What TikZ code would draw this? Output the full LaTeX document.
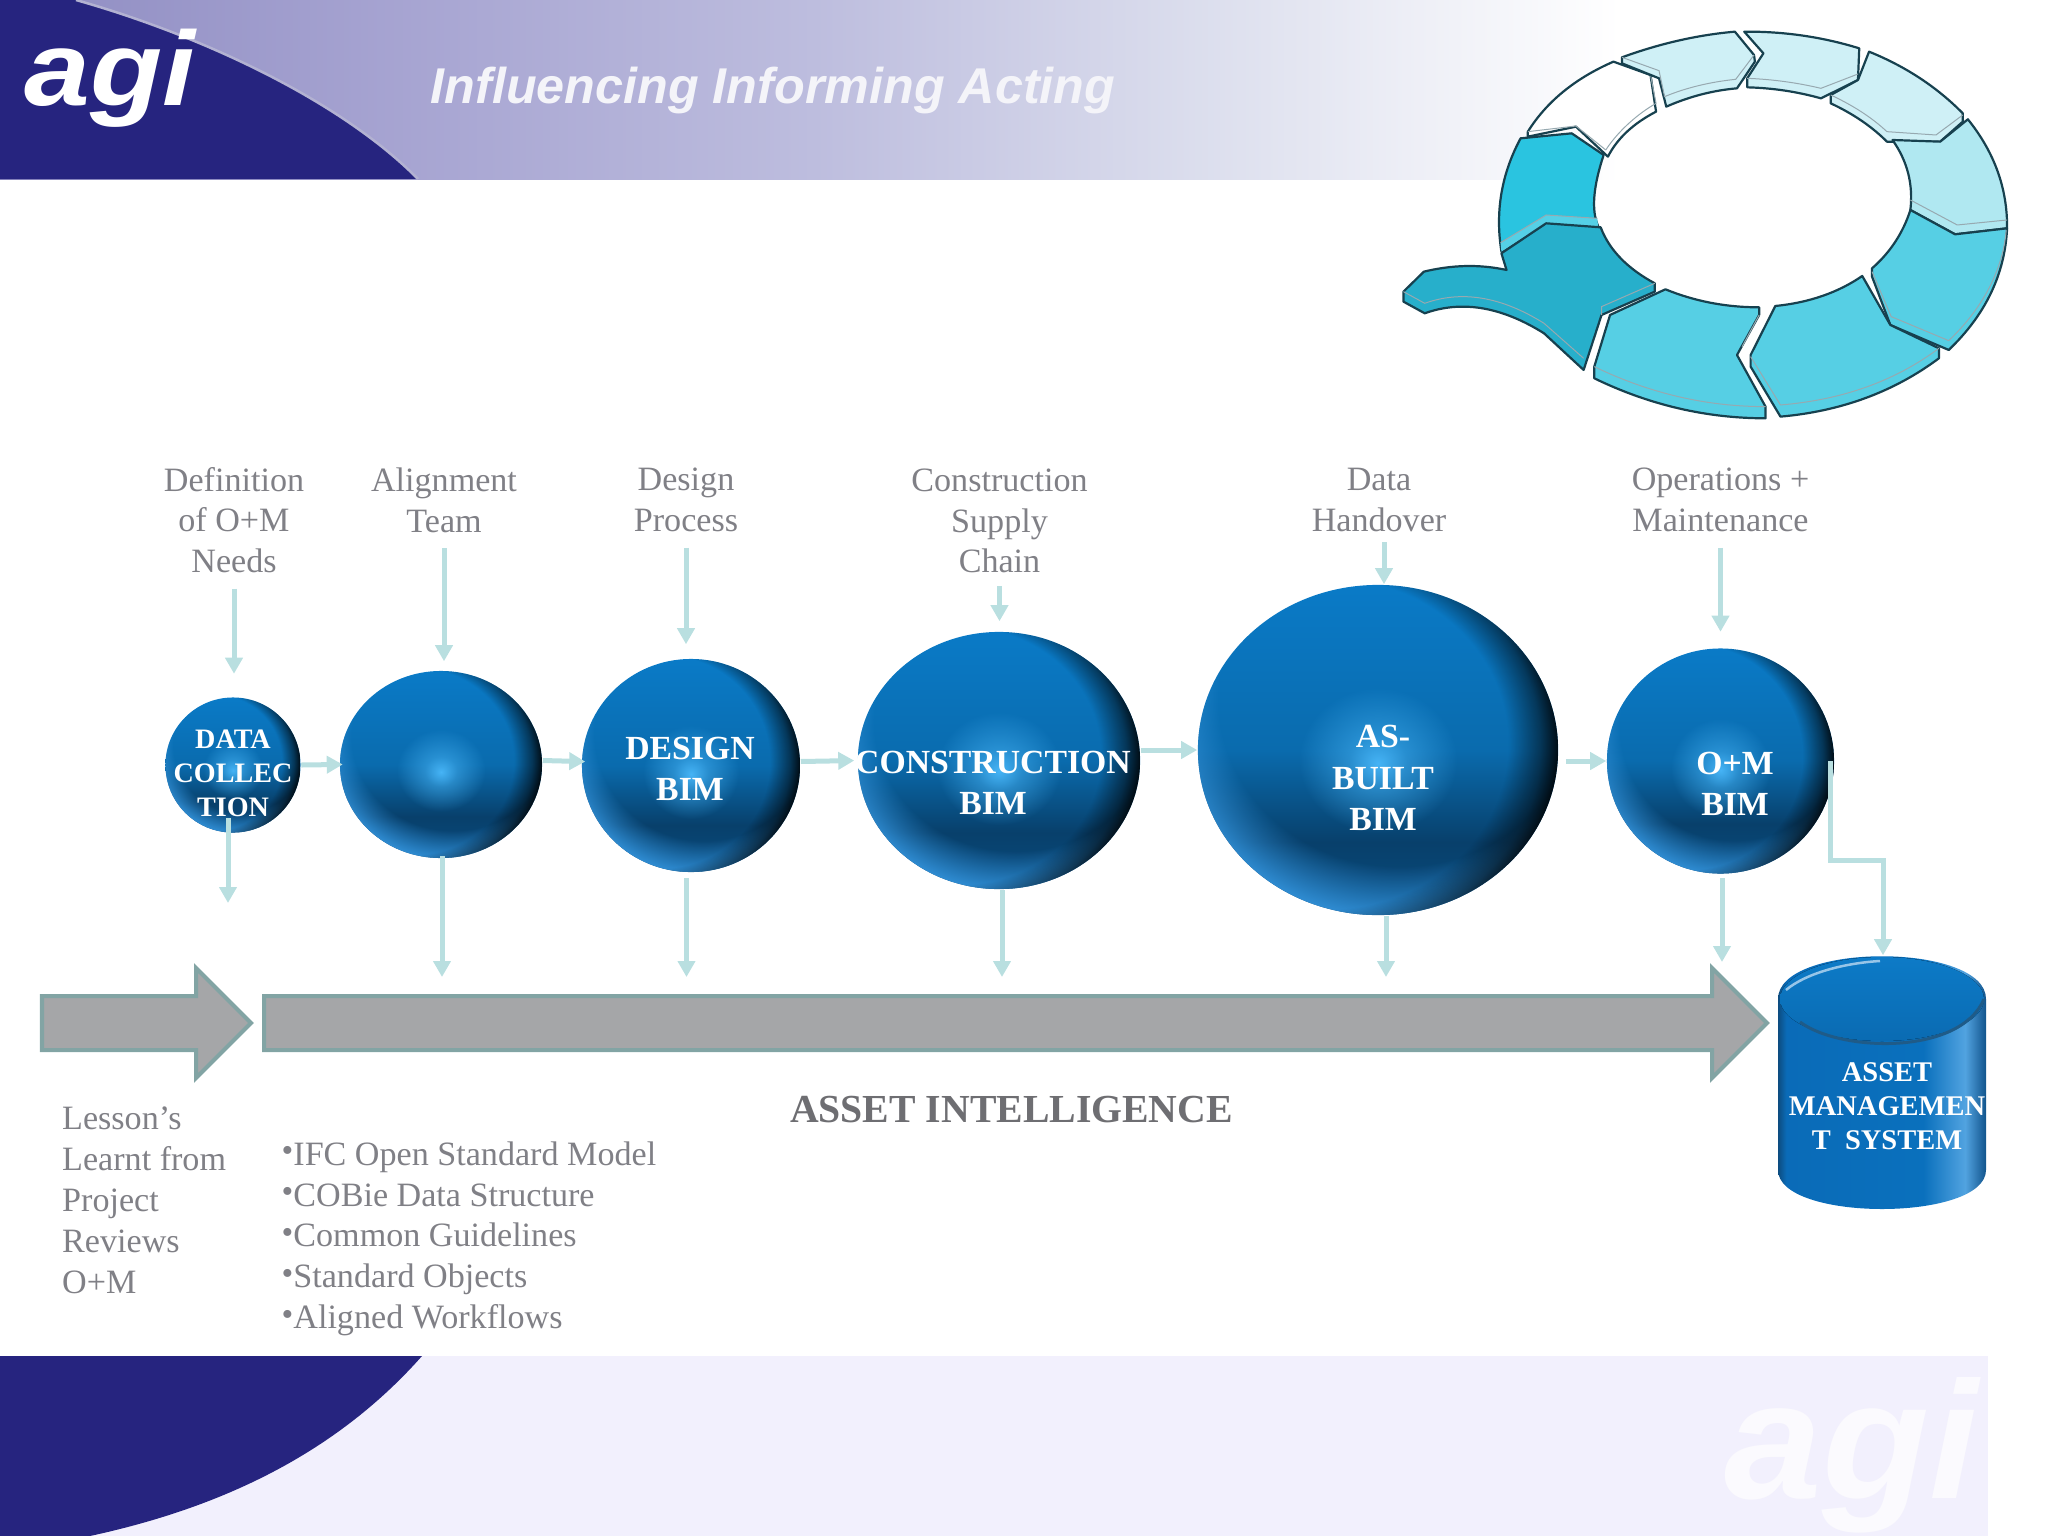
\documentclass[tikz,border=0pt]{standalone}
\usepackage{fontspec}
\usepackage{graphicx}
\setmainfont{Liberation Serif}
\newfontfamily\logofont{Liberation Sans}
\usetikzlibrary{arrows.meta,shapes.geometric,fadings}

\definecolor{navy}{HTML}{26247F}
\definecolor{flowcol}{HTML}{B9DFE0}
\definecolor{labelgray}{HTML}{808086}
\definecolor{titlegray}{HTML}{6E6E72}
\definecolor{barfill}{HTML}{A5A6A8}
\definecolor{barline}{HTML}{82A4A4}
\definecolor{footcol}{HTML}{F2F0FD}
\definecolor{ringline}{HTML}{17414F}
\definecolor{ringpale}{HTML}{CFF0F6}
\definecolor{ringmid}{HTML}{B0E8F1}
\definecolor{ringblue}{HTML}{56CFE4}
\definecolor{ringbright}{HTML}{2AC4E0}
\definecolor{ringdark}{HTML}{27AFCB}
\definecolor{glowcol}{HTML}{46B4F6}
\definecolor{rimcol}{HTML}{2F8CD2}

\pgfdeclarehorizontalshading{headerband}{100bp}{rgb(0bp)=(.56,.55,.76);
  rgb(25bp)=(.56,.55,.76);
  rgb(37bp)=(.65,.64,.82);
  rgb(50bp)=(.74,.74,.87);
  rgb(62bp)=(.86,.87,.93);
  rgb(75bp)=(1,1,1);
  rgb(100bp)=(1,1,1)}
\pgfdeclareverticalshading{ballbody}{100bp}{rgb(0bp)=(.04,.30,.50);
  rgb(25bp)=(.04,.30,.50);
  rgb(36bp)=(.03,.25,.42);
  rgb(50bp)=(.04,.42,.68);
  rgb(75bp)=(.04,.48,.78);
  rgb(100bp)=(.04,.48,.78)}
\pgfdeclareverticalshading{dbtop}{100bp}{rgb(0bp)=(.04,.42,.70);
  rgb(25bp)=(.04,.42,.70);
  rgb(75bp)=(.05,.48,.78);
  rgb(100bp)=(.05,.48,.78)}
\pgfdeclarehorizontalshading{dbbody}{100bp}{rgb(0bp)=(.05,.30,.50);
  rgb(25bp)=(.05,.30,.50);
  rgb(27bp)=(.04,.42,.72);
  rgb(60bp)=(.04,.44,.74);
  rgb(70bp)=(.32,.64,.88);
  rgb(75bp)=(.07,.33,.55);
  rgb(100bp)=(.07,.33,.55)}
\pgfdeclareradialshading{rimdarkshade}{\pgfpoint{-14bp}{2bp}}{color(0bp)=(black);
  color(25bp)=(black);color(28.5bp)=(gray);color(31bp)=(white);color(50bp)=(white)}
\pgfdeclareradialshading{rimlowshade}{\pgfpoint{6bp}{15bp}}{color(0bp)=(black);
  color(25bp)=(black);color(31bp)=(white);color(50bp)=(white)}
\pgfdeclareradialshading{glowshade}{\pgfpoint{0bp}{-2bp}}{color(0bp)=(white);
  color(4bp)=(gray);color(11bp)=(black);color(50bp)=(black)}
\pgfdeclarefading{rimdark}{\pgfuseshading{rimdarkshade}}
\pgfdeclarefading{rimlow}{\pgfuseshading{rimlowshade}}
\pgfdeclarefading{ballglow}{\pgfuseshading{glowshade}}

\tikzset{
  stagelabel/.style={text=labelgray, align=center, inner sep=0pt, font=\fontsize{9.7}{11.6}\selectfont},
  bimball/.style={ellipse, inner sep=0pt, shading=ballbody, path picture={
    \fill[rimcol, path fading=rimlow] (path picture bounding box.south west) rectangle (path picture bounding box.north east);
    \fill[black, path fading=rimdark] (path picture bounding box.south west) rectangle (path picture bounding box.north east);
    \fill[glowcol, path fading=ballglow] (path picture bounding box.south west) rectangle (path picture bounding box.north east);
  }},
  bimtext/.style={text=white, align=center, inner sep=0pt, font=\bfseries\fontsize{9.6}{11.7}\selectfont},
  smalltext/.style={bimtext, font=\bfseries\fontsize{8}{9.67}\selectfont},
  flowarrow/.style={draw=flowcol, line width=.5mm, -{Triangle[length=1.6mm,width=1.7mm]}},
  bigarrow/.style={fill=barfill, draw=barline, line width=.4mm},
  ringseg/.style={draw=ringline, line width=.22mm, line join=round},
  ringfacet/.style={draw=ringline!45, line width=.1mm}
}

\newcommand{\pointmark}{\raisebox{1pt}{\fontsize{9.5}{9.5}\selectfont\textbullet}}

\begin{document}
\begin{tikzpicture}[x=0.01cm,y=-0.01cm]
\useasboundingbox (0,0) rectangle (2048,1536);

% header and footer
\path[shading=headerband] (0,0) rectangle (1620,179);
\fill[navy] (0,0) -- (76,0) .. controls (200,35) and (340,100) .. (418,179) -- (0,179) -- cycle;
\draw[draw=navy!35!white, line width=.25mm] (76,0) .. controls (200,35) and (340,100) .. (418,179);
\fill[footcol] (0,1356) rectangle (1988,1536);
\fill[navy] (0,1356) -- (422,1356) .. controls (330,1460) and (210,1510) .. (90,1536) -- (0,1536) -- cycle;
\node[text=white, inner sep=0pt, anchor=base, font=\logofont\bfseries\itshape\fontsize{30}{30}\selectfont] (toplogo) at (110,105) {\scalebox{1.12}[1]{agi}};
\node[text=white!95!navy, inner sep=0pt, font=\logofont\bfseries\itshape\fontsize{14.3}{16}\selectfont] (tagline) at (773,90) {Influencing Informing Acting};
\node[text=white!70!footcol, inner sep=0pt, anchor=base, font=\logofont\bfseries\itshape\fontsize{47.5}{48}\selectfont] (footlogo) at (1851.5,1498) {\scalebox{1.05}[1]{agi}};

% ring
\begin{scope}[shift={(1380,0)},xscale=0.426,yscale=0.3333]
\draw[ringseg, fill=white] (347,410) -- (347,395) .. controls (391,305) and (458,235) .. (548,185) -- (635,225) -- (648,335) .. controls (595,370) and (557,415) .. (535,470) -- (460,380) -- cycle;
\draw[ringfacet] (347,395) -- (460,378) -- (530,450);
\draw[ringfacet] (635,225) -- (648,310) .. controls (600,345) and (555,400) .. (530,450);
\draw[ringseg, fill=ringpale] (568,172) .. controls (656,131) and (744,105) .. (833,95) -- (878,165) -- (880,185) -- (838,265) .. controls (783,271) and (727,289) .. (672,320) -- (655,235) -- (568,190) -- cycle;
\draw[ringfacet] (568,172) -- (655,212) -- (668,290) .. controls (720,262) and (780,245) .. (835,238) -- (878,165);
\draw[ringseg, fill=ringpale] (855,95) .. controls (949,94) and (1039,111) .. (1125,145) -- (1122,240) -- (1035,295) .. controls (979,275) and (922,264) .. (862,262) -- (862,235) -- (900,160) -- cycle;
\draw[ringfacet] (862,235) .. controls (922,238) and (979,248) .. (1035,265) -- (1122,222);
\draw[ringseg, fill=ringpale] (1148,155) .. controls (1235,200) and (1308,262) .. (1368,340) -- (1368,365) -- (1315,425) -- (1190,425) .. controls (1154,379) and (1110,341) .. (1058,310) -- (1058,285) -- (1122,240) -- cycle;
\draw[ringfacet] (1058,285) .. controls (1110,316) and (1154,352) .. (1190,395) -- (1305,405) -- (1368,345);
\draw[ringseg, fill=ringmid] (1380,358) .. controls (1443,458) and (1473,567) .. (1472,685) -- (1350,703) -- (1245,630) .. controls (1252,553) and (1238,483) .. (1203,420) -- (1315,425) -- cycle;
\draw[ringfacet] (1245,600) -- (1355,675) -- (1472,660);
\draw[ringseg, fill=ringblue] (1472,685) .. controls (1467,823) and (1421,945) .. (1335,1050) -- (1198,975) -- (1155,830) -- (1155,805) .. controls (1198,757) and (1228,698) .. (1245,630) -- (1350,703) -- cycle;
\draw[ringfacet] (1155,815) -- (1200,950) -- (1335,1022) .. controls (1415,925) and (1462,810) .. (1470,690);
\draw[ringseg, fill=ringblue] (1132,828) -- (1198,975) -- (1312,1045) -- (1312,1075) .. controls (1207,1175) and (1083,1234) .. (940,1250) -- (870,1100) -- (870,1065) -- (928,918) .. controls (1007,908) and (1075,878) .. (1132,828) -- cycle;
\draw[ringfacet] (870,1070) -- (940,1215) .. controls (1083,1200) and (1207,1145) .. (1312,1045);
\draw[ringseg, fill=ringblue] (670,868) .. controls (737,903) and (810,922) .. (890,922) -- (890,945) -- (838,1065) -- (905,1220) -- (905,1255) .. controls (766,1255) and (632,1215) .. (503,1135) -- (503,1100) -- (540,945) -- cycle;
\draw[ringfacet] (503,1100) .. controls (632,1180) and (766,1220) .. (905,1220);
\draw[ringfacet] (890,945) -- (850,1040);
\draw[ringseg, fill=ringbright] (285,755) .. controls (270,635) and (285,522) .. (330,415) -- (450,400) -- (525,465) .. controls (500,561) and (496,632) .. (512,678) -- (390,670) -- cycle;
\fill[ringbright!80!white] (285,755) -- (390,670) -- (512,680) -- (510,655) -- (390,645) -- (283,728) -- cycle;
\draw[ringfacet] (283,728) -- (390,645) -- (510,655);
\draw[ringseg, fill=ringdark] (285,760) -- (390,670) -- (518,682) .. controls (538,750) and (581,806) .. (645,850) -- (645,875) -- (520,945) -- (478,1110) -- (385,1000) .. controls (285,920) and (192,900) .. (105,940) -- (55,905) -- (55,875) -- (103,815) .. controls (168,795) and (232,792) .. (297,810) -- cycle;
\draw[ringfacet] (645,850) -- (520,920) -- (520,945);
\draw[ringfacet] (55,875) -- (105,910) .. controls (192,870) and (285,890) .. (385,970) -- (478,1075);
\end{scope}

% stages
\node[stagelabel] (needs) at (234,520) {Definition\\of O+M\\Needs};
\node[stagelabel] (alignteam) at (444,500) {Alignment\\Team};
\node[stagelabel] (designproc) at (686,500) {Design\\Process};
\node[stagelabel] (supply) at (999.5,521) {Construction\\Supply\\Chain};
\node[stagelabel] (handover) at (1379,500) {Data\\Handover};
\node[stagelabel] (operations) at (1720.5,500) {Operations +\\Maintenance};

\node[bimball, minimum width=13.5mm, minimum height=13.5mm] (databall) at (233,765) {};
\node[bimball, minimum width=20.2mm, minimum height=18.7mm] (alignball) at (441,764.5) {};
\node[bimball, minimum width=21.8mm, minimum height=21.3mm] (designball) at (691,765.5) {};
\node[bimball, minimum width=28.2mm, minimum height=25.7mm] (constrball) at (999,760.5) {};
\node[bimball, minimum width=36mm, minimum height=33mm] (builtball) at (1378,750) {};
\node[bimball, minimum width=22.7mm, minimum height=22.5mm] (omball) at (1720.5,761) {};

\node[smalltext] (datatext) at (233,773) {DATA\\COLLEC\\TION};
\node[bimtext] (designtext) at (690,769) {DESIGN\\BIM};
\node[bimtext] (constrtext) at (993,783) {CONSTRUCTION\\BIM};
\node[bimtext] (builttext) at (1383,778) {AS-\\BUILT\\BIM};
\node[bimtext] (omtext) at (1735,784) {O+M\\BIM};

% big arrows
\draw[bigarrow] (42,996) -- (196,996) -- (196,968) -- (251,1023) -- (196,1078) -- (196,1050) -- (42,1050) -- cycle;
\draw[bigarrow] (264,996) -- (1712,996) -- (1712,968) -- (1767,1023) -- (1712,1078) -- (1712,1050) -- (264,1050) -- cycle;

% asset store
\node[inner sep=0pt, minimum width=20.9mm, minimum height=25.3mm] (asset) at (1882,1082.5) {};
\path[shading=dbbody] (1778,999) .. controls (1778,942) and (1986,942) .. (1986,999) -- (1986,1170) .. controls (1986,1222) and (1778,1222) .. (1778,1170) -- cycle;
\fill[shading=dbtop] (1882,999) ellipse [x radius=102, y radius=42];
\draw[draw=black!35!rimcol, line width=.3mm] (1800,1022) .. controls (1840,1052) and (1960,1056) .. (1984,999);
\draw[draw=rimcol!50!white, line width=.25mm] (1786,990) .. controls (1806,973) and (1845,963) .. (1880,961);
\node[smalltext, font=\bfseries\fontsize{8.1}{9.67}\selectfont] (assettext) at (1887,1106) {ASSET\\MANAGEMEN\\T~~SYSTEM};

% connectors
\coordinate (datadown) at (228,903);
\coordinate (aligndown) at (442,977);
\coordinate (designdown) at (686.5,977);
\coordinate (constrdown) at (1002,977);
\coordinate (builtdown) at (1386,977);
\coordinate (omdown) at (1722,962);
\coordinate (omelbow) at (1883,860);

\draw[flowarrow, shorten <=1.5mm, shorten >=2.3mm] (needs.south) -- (needs.south |- databall.north);
\draw[flowarrow, shorten <=1.5mm, shorten >=.9mm] (alignteam.south) -- (alignteam.south |- alignball.north);
\draw[flowarrow, shorten <=1.5mm, shorten >=1.4mm] (designproc.south) -- (designproc.south |- designball.north);
\draw[flowarrow, shorten <=1.2mm, shorten >=1mm] (supply.south) -- (supply.south |- constrball.north);
\draw[flowarrow, shorten <=1mm] ([xshift=.5mm]handover.south) -- ([xshift=.5mm]handover.south |- builtball.north);
\draw[flowarrow, shorten <=1.5mm, shorten >=1.6mm] (operations.south) -- (operations.south |- omball.north);

\draw[flowarrow, shorten >=-.35mm] (databall.east) -- (alignball.west);
\draw[flowarrow, shorten >=-.4mm] ([yshift=.4mm]alignball.east) -- ([yshift=.4mm]designball.west);
\draw[flowarrow, shorten >=.3mm] ([yshift=.4mm]designball.east) -- (constrball.west);
\draw[flowarrow] (constrball.east |- builtball.west) -- (builtball.west);
\draw[flowarrow, shorten <=.7mm] (omball.west -| builtball.east) -- (omball.west);

\draw[flowarrow, shorten <=-1.5mm] (datadown |- databall.south) -- (datadown);
\draw[flowarrow, shorten <=-.3mm] (aligndown |- alignball.south) -- (aligndown);
\draw[flowarrow, shorten <=.5mm] (designdown |- designball.south) -- (designdown);
\draw[flowarrow] (constrdown |- constrball.south) -- (constrdown);
\draw[flowarrow] (builtdown |- builtball.south) -- (builtdown);
\draw[flowarrow, shorten <=.4mm] (omdown |- omball.south) -- (omdown);
\draw[flowarrow] ([xshift=-.4mm]omball.east) |- (omelbow) -- (omelbow |- asset.north);

% texts
\node[text=titlegray, inner sep=0pt, font=\bfseries\fontsize{11.3}{13}\selectfont] (assetintel) at (1011.5,1110) {ASSET INTELLIGENCE};
\node[stagelabel, align=left, anchor=north west] (lessons) at (61.5,1106.5) {Lesson’s\\Learnt from\\Project\\Reviews\\O+M};
\node[stagelabel, align=left, anchor=north west] (standards) at (281,1141) {\pointmark IFC Open Standard Model\\\pointmark COBie Data Structure\\\pointmark Common Guidelines\\\pointmark Standard Objects\\\pointmark Aligned Workflows};
\end{tikzpicture}
\end{document}
